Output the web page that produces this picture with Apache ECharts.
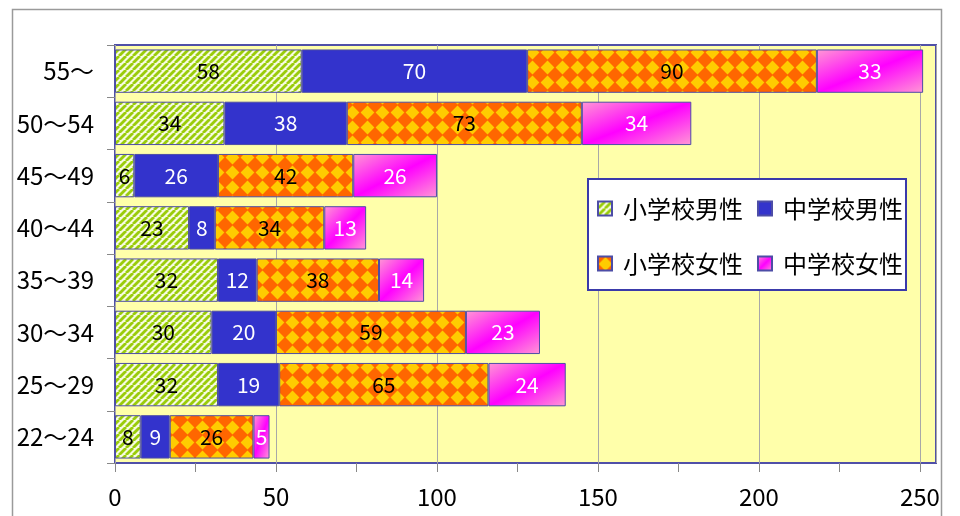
<!DOCTYPE html>
<html><head><meta charset="utf-8">
<script src="https://cdn.jsdelivr.net/npm/echarts@6/dist/echarts.min.js"></script>
<style>html,body{margin:0;padding:0;background:#fff}#c{width:960px;height:516px}</style>
</head><body><div id="c"></div>
<script>
const categories = ['55～','50～54','45～49','40～44','35～39','30～34','25～29','22～24'];
const seriesNames = ['小学校男性','中学校男性','小学校女性','中学校女性'];
const elemMale = [58,34,6,23,32,30,32,8];
const juniorMale = [70,38,26,8,12,20,19,9];
const elemFemale = [90,73,42,34,38,59,65,26];
const juniorFemale = [33,34,26,13,14,23,24,5];
const xLabelValues = [0,50,100,150,200,250];
const xTickValues = [0,25,50,75,100,125,150,175,200,225,250];

const FONT = '"Noto Sans CJK JP", "Noto Sans", sans-serif';

function stripeTile(){
  const s=7, c=document.createElement('canvas'); c.width=s; c.height=s;
  const g=c.getContext('2d');
  g.fillStyle='#f6fbe0'; g.fillRect(0,0,s,s);
  g.strokeStyle='#9acc0a'; g.lineWidth=2.8;
  for (const k of [-s,0,s]) { g.beginPath(); g.moveTo(k,s); g.lineTo(k+s,0); g.stroke(); }
  return c;
}
function checkerTile(){
  const s=15, h=s/2, r=6.9, c=document.createElement('canvas'); c.width=s; c.height=s;
  const g=c.getContext('2d');
  g.fillStyle='#ff6600'; g.fillRect(0,0,s,s);
  g.fillStyle='#ffcc00';
  g.beginPath(); g.moveTo(h-r,h); g.lineTo(h,h-r); g.lineTo(h+r,h); g.lineTo(h,h+r); g.closePath(); g.fill();
  return c;
}
const stripe = {image: stripeTile(), repeat:'repeat'};
const checker = {image: checkerTile(), repeat:'repeat'};
function pinkGrad(a,b){
  return {type:'linear', x:0, y:0, x2:a, y2:b, colorStops:[
    {offset:0,color:'#ff99d4'},{offset:0.5,color:'#ff00ff'},{offset:1,color:'#ff99d4'}]};
}
const BORDER = '#4d4da6';
const barGap = '17%';

function makeSeries(name, data, color, labelColor){
  return {
    name, type:'bar', stack:'total', data, barCategoryGap: barGap,
    itemStyle:{color, borderColor:BORDER, borderWidth:1},
    label:{show:true, position:'inside', color:labelColor, fontSize:21, fontFamily:FONT},
    emphasis:{disabled:true}
  };
}

const chart = echarts.init(document.getElementById('c'), null, {renderer:'canvas'});
const option = {
  animation:false,
  backgroundColor:'#ffffff',
  graphic:[{type:'rect', silent:true, z:-100,
    shape:{x:12.5,y:9.5,width:929,height:530},
    style:{fill:'none', stroke:'#9a9a9a', lineWidth:1.5}}],
  grid:{left:115, right:24, top:45, bottom:53, show:true,
    backgroundColor:'#ffffaa', borderColor:'#5050a8', borderWidth:2},
  legend:{
    data:seriesNames, left:588, top:179, width:310,
    orient:'horizontal', itemGap:14, itemWidth:14, itemHeight:14, icon:'rect',
    padding:[9,3,6,9],
    backgroundColor:'#ffffff', borderColor:'#3a3aaa', borderWidth:2,
    textStyle:{fontSize:24, color:'#000', fontFamily:FONT, lineHeight:41, padding:[0,0,0,6]}
  },
  xAxis:[{
    type:'value', min:0, max:255, interval:50,
    axisLine:{show:false},
    axisTick:{show:false},
    axisLabel:{customValues:xLabelValues, fontSize:24, color:'#000', margin:22, fontFamily:FONT},
    splitLine:{show:true, lineStyle:{color:'#a8a8a8', width:1}}
  },{
    type:'value', min:0, max:255, interval:25, position:'bottom',
    axisLine:{show:false},
    axisTick:{show:true, customValues:xTickValues, length:9, lineStyle:{color:'#888'}},
    axisLabel:{show:false},
    splitLine:{show:false}
  }],
  yAxis:{
    type:'category', data:categories, inverse:true,
    axisLine:{show:false},
    axisTick:{show:true, length:8, lineStyle:{color:'#888'}},
    axisLabel:{fontSize:24, color:'#000', margin:21, fontFamily:FONT}
  },
  series:[
    makeSeries(seriesNames[0], elemMale, stripe, '#000'),
    makeSeries(seriesNames[1], juniorMale, '#3333cc', '#fff'),
    makeSeries(seriesNames[2], elemFemale, checker, '#000'),
    makeSeries(seriesNames[3], juniorFemale, pinkGrad(1,1), '#fff')
  ]
};
chart.setOption(option);

// per-bar diagonal gradient so the magenta band follows each bar's anti-diagonal
const pxPerUnit = chart.convertToPixel({xAxisIndex:0}, 100) - chart.convertToPixel({xAxisIndex:0}, 0);
const band = Math.abs(chart.convertToPixel({yAxisIndex:0}, categories[1]) - chart.convertToPixel({yAxisIndex:0}, categories[0]));
const h = band * (1 - parseFloat(barGap)/100);
const pinkData = juniorFemale.map(v => {
  const w = v * pxPerUnit / 100;
  const d = h*h + w*w;
  return {value:v, itemStyle:{color: pinkGrad(2*h*h/d, 2*w*w/d)}};
});
chart.setOption({series:[{},{},{},{data:pinkData}]});
</script></body></html>
